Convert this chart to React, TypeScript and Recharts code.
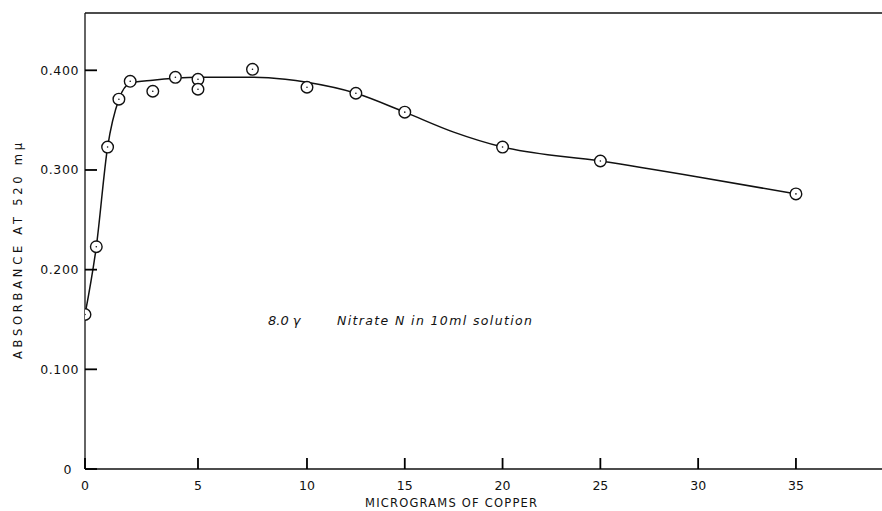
import React from "react"
import {
  ComposedChart,
  Line,
  Scatter,
  XAxis,
  YAxis,
  ReferenceLine,
  Label,
} from "recharts"

// measured points
const copperUg = [0, 0.5, 1, 1.5, 2, 3, 4, 5, 5, 7.5, 10, 12.5, 15, 20, 25, 35]
const absorbance = [0.155, 0.223, 0.323, 0.371, 0.389, 0.379, 0.393, 0.391, 0.381, 0.401, 0.383, 0.377, 0.358, 0.323, 0.309, 0.276]

// hand-drawn fitted curve
const curveX = [0, 0.5, 1, 1.5, 2, 3, 4, 5, 7.5, 9, 10, 12.5, 15, 17.5, 20, 25, 30, 35]
const curveY = [0.155, 0.223, 0.323, 0.371, 0.387, 0.39, 0.392, 0.393, 0.393, 0.391, 0.388, 0.377, 0.358, 0.338, 0.323, 0.309, 0.293, 0.276]

const xTicks = [0, 5, 10, 15, 20, 25, 30, 35]
const yTicks = [0, 0.1, 0.2, 0.3, 0.4]

// the original x axis is not evenly spaced (0-10 is stretched)
const knotVal = [0, 5, 10, 35]
const knotPos = [0, 113, 222, 711]

const Y_MAX = 0.4575
const X_MAX = 39.4
const FONT = "'DejaVu Sans', sans-serif"

function warp(v: number) {
  const n = knotVal.length
  let i = 0
  while (i < n - 2 && v > knotVal[i + 1]) i++
  const t = (v - knotVal[i]) / (knotVal[i + 1] - knotVal[i])
  return knotPos[i] + t * (knotPos[i + 1] - knotPos[i])
}

function unwarp(p: number) {
  const n = knotPos.length
  let i = 0
  while (i < n - 2 && p > knotPos[i + 1]) i++
  const t = (p - knotPos[i]) / (knotPos[i + 1] - knotPos[i])
  return knotVal[i] + t * (knotVal[i + 1] - knotVal[i])
}

function makeScale(dom: number[] = [0, 1], rng: number[] = [0, 1]): any {
  const s: any = (v: number) => {
    const a = warp(dom[0])
    const b = warp(dom[1])
    return rng[0] + ((warp(v) - a) / (b - a)) * (rng[1] - rng[0])
  }
  s.domain = (d?: any[]) => {
    if (d === undefined) return dom.slice()
    dom = [Number(d[0]), Number(d[d.length - 1])]
    return s
  }
  s.range = (r?: any[]) => {
    if (r === undefined) return rng.slice()
    rng = [Number(r[0]), Number(r[r.length - 1])]
    return s
  }
  s.invert = (p: number) => {
    const a = warp(dom[0])
    const b = warp(dom[1])
    return unwarp(a + ((p - rng[0]) / (rng[1] - rng[0])) * (b - a))
  }
  s.ticks = () => xTicks
  s.copy = () => makeScale(dom.slice(), rng.slice())
  return s
}

const xScale = makeScale()

const points = copperUg.map((x, i) => ({ x, y: absorbance[i] }))
const curve = curveX.map((x, i) => ({ x, y: curveY[i] }))

const fmtY = (v: number) => (v === 0 ? "0" : v.toFixed(3))

// ticks point inward, labels stay outside
const YTick = (props: any) => {
  const { x, y, payload } = props
  const v = payload.value
  return (
    <g>
      <path d={`M${x + 6},${y}h12`} stroke="#000" strokeWidth={1.8} fill="none" />
      <text x={v === 0 ? x - 7 : x} y={y + 4.5} textAnchor="end" fontSize={12.5} fontFamily={FONT} fill="#111" letterSpacing={0.6}>
        {fmtY(v)}
      </text>
    </g>
  )
}

const XTick = (props: any) => {
  const { x, y, payload } = props
  return (
    <g>
      <path d={`M${x},${y - 6}v-11`} stroke="#000" strokeWidth={1.8} fill="none" />
      <text x={x} y={y + 15} textAnchor="middle" fontSize={12.5} fontFamily={FONT} fill="#111">
        {payload.value}
      </text>
    </g>
  )
}

const Ring = (props: any) => {
  const { cx, cy } = props
  return (
    <g>
      <circle cx={cx} cy={cy} r={5.8} fill="#fff" stroke="#111" strokeWidth={1.4} />
      <circle cx={cx} cy={cy} r={0.8} fill="#111" />
    </g>
  )
}

export default function App() {
  return (
    <div style={{ position: "absolute", left: 0, top: 0, width: 882, height: 511, background: "#fff" }}>
      <ComposedChart width={882} height={511} margin={{ top: 13, right: 0, bottom: 0, left: 0 }}>
        <XAxis
          type="number"
          dataKey="x"
          domain={[0, X_MAX]}
          scale={xScale}
          ticks={xTicks}
          tick={<XTick />}
          tickLine={false}
          tickSize={0}
          tickMargin={6}
          axisLine={{ stroke: "#111", strokeWidth: 1.5 }}
          allowDataOverflow
          height={42}
        >
          <Label
            content={() => (
              <text x={451} y={507} textAnchor="middle" fontSize={11.5} fontFamily={FONT} fill="#111" textLength={172} lengthAdjust="spacing">
                MICROGRAMS OF COPPER
              </text>
            )}
          />
        </XAxis>
        <YAxis
          type="number"
          domain={[0, Y_MAX]}
          ticks={yTicks}
          tick={<YTick />}
          tickLine={false}
          tickSize={0}
          tickMargin={6}
          axisLine={{ stroke: "#111", strokeWidth: 1.3 }}
          allowDataOverflow
          width={85}
        >
          <Label
            content={() => (
              <text
                x={22}
                y={251}
                transform="rotate(-90 22 251)"
                textAnchor="middle"
                fontSize={11.5}
                fontFamily={FONT}
                fill="#111"
                textLength={216}
                lengthAdjust="spacing"
              >
                ABSORBANCE  AT  520 mμ
              </text>
            )}
          />
        </YAxis>
        <ReferenceLine y={Y_MAX} stroke="#111" strokeWidth={1.5} ifOverflow="extendDomain" />
        <Line
          data={curve}
          dataKey="y"
          type="monotone"
          stroke="#111"
          strokeWidth={1.5}
          dot={false}
          activeDot={false}
          isAnimationActive={false}
        />
        <Scatter data={points} dataKey="y" shape={<Ring />} isAnimationActive={false} />
        <text x={268} y={325} fontSize={13} fontStyle="italic" fontFamily={FONT} fill="#111">
          8.0 γ
        </text>
        <text x={337} y={325} fontSize={12.5} fontStyle="italic" fontFamily={FONT} fill="#111" textLength={195} lengthAdjust="spacing">
          Nitrate N in 10ml solution
        </text>
      </ComposedChart>
    </div>
  )
}
